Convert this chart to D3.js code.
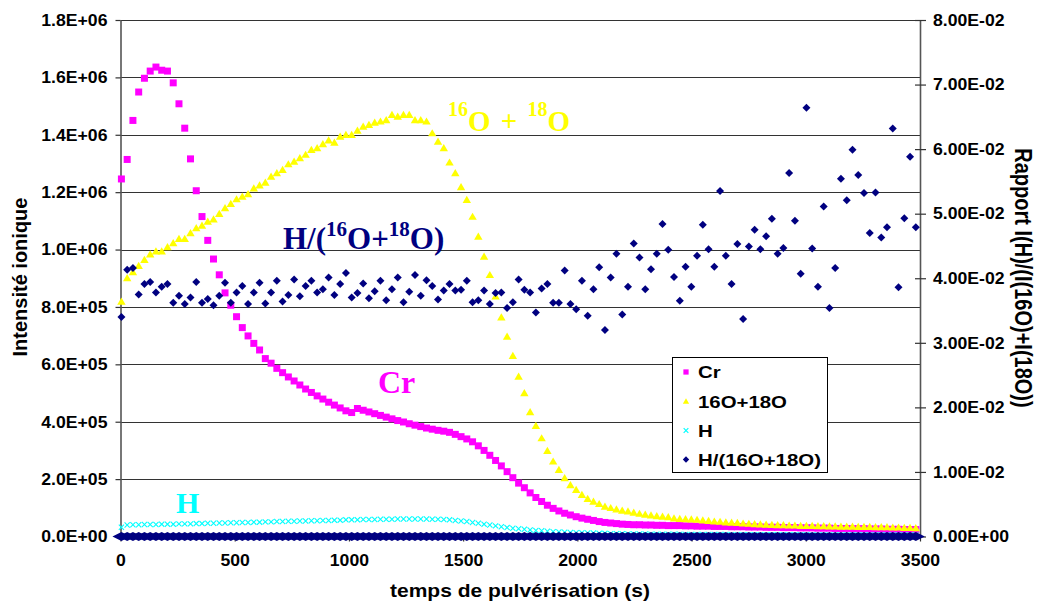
<!DOCTYPE html>
<html><head><meta charset="utf-8">
<script src="https://cdn.jsdelivr.net/npm/d3@7"></script>
<style>body{margin:0;background:#fff} svg{display:block}</style>
</head><body><svg id="c" width="1037" height="602"></svg>
<script>
// sampling schedule (s): first acquisition and step
const T0 = 4, DT = 25.2;
// Cr intensity (units of 1E+06)
const crValues = [
1.246,1.314,1.450,1.549,1.597,1.622,1.636,1.625,1.622,1.581,
1.508,1.423,1.316,1.205,1.115,1.032,0.967,0.912,0.849,0.806,
0.766,0.728,0.699,0.673,0.650,0.620,0.604,0.586,0.571,0.556,
0.542,0.528,0.514,0.502,0.490,0.479,0.468,0.458,0.448,0.438,
0.432,0.446,0.440,0.434,0.428,0.422,0.416,0.410,0.404,0.399,
0.393,0.388,0.383,0.378,0.374,0.370,0.367,0.363,0.356,0.348,
0.340,0.330,0.316,0.300,0.283,0.265,0.246,0.226,0.205,0.186,
0.170,0.152,0.136,0.122,0.109,0.098,0.089,0.081,0.075,0.069,
0.064,0.060,0.056,0.052,0.049,0.047,0.045,0.043,0.042,0.041,
0.041,0.040,0.040,0.039,0.039,0.038,0.038,0.038,0.037,0.037,
0.036,0.036,0.036,0.035,0.035,0.035,0.034,0.034,0.034,0.033,
0.033,0.033,0.032,0.032,0.032,0.031,0.031,0.031,0.030,0.030,
0.030,0.029,0.029,0.029,0.028,0.028,0.028,0.027,0.027,0.027,
0.026,0.026,0.026,0.025,0.025,0.025,0.024,0.024,0.024];
// 16O+18O intensity (units of 1E+06)
const oValues = [
0.818,0.900,0.921,0.943,0.964,0.983,0.993,0.993,1.008,1.022,
1.037,1.037,1.057,1.074,1.083,1.097,1.105,1.124,1.144,1.159,
1.175,1.184,1.193,1.213,1.223,1.233,1.254,1.266,1.277,1.297,
1.306,1.318,1.330,1.347,1.353,1.367,1.380,1.372,1.393,1.399,
1.399,1.414,1.428,1.434,1.442,1.446,1.451,1.469,1.463,1.469,
1.469,1.451,1.451,1.446,1.405,1.376,1.353,1.303,1.266,1.217,
1.173,1.114,1.045,0.975,0.911,0.836,0.763,0.696,0.629,0.557,
0.499,0.433,0.385,0.342,0.298,0.261,0.232,0.203,0.179,0.162,
0.145,0.131,0.121,0.113,0.104,0.099,0.094,0.090,0.087,0.083,
0.079,0.076,0.073,0.071,0.069,0.067,0.063,0.061,0.060,0.059,
0.058,0.056,0.054,0.052,0.051,0.049,0.048,0.047,0.045,0.044,
0.043,0.042,0.041,0.040,0.039,0.039,0.038,0.038,0.037,0.037,
0.037,0.036,0.036,0.035,0.035,0.034,0.034,0.034,0.033,0.033,
0.033,0.032,0.032,0.032,0.031,0.031,0.030,0.030,0.029];
// H intensity (units of 1E+06)
const hValues = [
0.032,0.040,0.041,0.041,0.042,0.042,0.042,0.043,0.043,0.043,
0.044,0.044,0.044,0.045,0.045,0.046,0.046,0.047,0.047,0.048,
0.048,0.049,0.049,0.050,0.050,0.051,0.051,0.052,0.052,0.053,
0.053,0.054,0.054,0.055,0.055,0.056,0.056,0.057,0.057,0.058,
0.058,0.058,0.059,0.059,0.059,0.060,0.060,0.060,0.061,0.061,
0.061,0.061,0.061,0.061,0.060,0.060,0.059,0.058,0.056,0.054,
0.052,0.049,0.046,0.043,0.040,0.037,0.034,0.031,0.029,0.027,
0.025,0.023,0.021,0.020,0.018,0.017,0.016,0.015,0.014,0.013,
0.013,0.012,0.012,0.011,0.011,0.010,0.010,0.010,0.009,0.009,
0.009,0.009,0.008,0.008,0.008,0.008,0.008,0.008,0.007,0.007,
0.007,0.007,0.007,0.007,0.007,0.007,0.006,0.006,0.006,0.006,
0.006,0.006,0.006,0.006,0.006,0.006,0.006,0.006,0.006,0.006,
0.005,0.005,0.005,0.005,0.005,0.005,0.005,0.005,0.005,0.005,
0.005,0.005,0.005,0.005,0.005,0.005,0.005,0.005,0.005];
// ratio I(H)/(I(16O)+I(18O))
const ratioValues = [
0.0340,0.0413,0.0416,0.0375,0.0391,0.0394,0.0378,0.0387,0.0391,0.0362,
0.0373,0.0360,0.0370,0.0394,0.0362,0.0368,0.0358,0.0373,0.0393,0.0362,
0.0378,0.0388,0.0360,0.0378,0.0393,0.0361,0.0378,0.0396,0.0364,0.0374,
0.0398,0.0372,0.0388,0.0396,0.0378,0.0383,0.0401,0.0374,0.0391,0.0408,
0.0370,0.0377,0.0392,0.0369,0.0380,0.0396,0.0366,0.0383,0.0401,0.0363,
0.0379,0.0405,0.0373,0.0397,0.0388,0.0367,0.0381,0.0391,0.0381,0.0382,
0.0396,0.0363,0.0366,0.0381,0.0360,0.0377,
0.0378,0.0354,0.0363,0.0398,0.0382,0.0378,0.0347,0.0384,0.0391,0.0362,
0.0362,0.0412,0.0360,0.0352,0.0396,0.0342,0.0383,0.0417,0.0320,0.0401,
0.0438,0.0344,0.0387,0.0454,0.0432,0.0383,0.0414,0.0438,0.0484,0.0444,
0.0402,0.0365,0.0418,0.0387,0.0435,0.0483,0.0445,0.0418,0.0535,0.0435,
0.0391,0.0453,0.0337,0.0449,0.0475,0.0445,0.0465,0.0492,0.0438,0.0447,
0.0563,0.0489,0.0407,0.0664,0.0446,0.0387,0.0511,0.0354,0.0416,0.0554,
0.0521,0.0599,0.0560,0.0532,0.0470,0.0533,0.0463,0.0479,0.0632,0.0386,
0.0493,0.0588,0.0479];

const xTicks = [0,500,1000,1500,2000,2500,3000,3500];
const leftTicks = [0,0.2,0.4,0.6,0.8,1.0,1.2,1.4,1.6,1.8];
const leftTickLabels = ["0.0E+00","2.0E+05","4.0E+05","6.0E+05","8.0E+05","1.0E+06","1.2E+06","1.4E+06","1.6E+06","1.8E+06"];
const rightTicks = [0,0.01,0.02,0.03,0.04,0.05,0.06,0.07,0.08];
const rightTickLabels = ["0.00E+00","1.00E-02","2.00E-02","3.00E-02","4.00E-02","5.00E-02","6.00E-02","7.00E-02","8.00E-02"];
const legendLabels = ["Cr","16O+18O","H","H/(16O+18O)"];
const colors = {cr:"#FF00FF", o:"#FFFF00", h:"#00FFFF", ratio:"#000080"};
const LEFT_UNIT = 1e6; // left axis values are stored in units of 1E+06

const times = ratioValues.map((_, i) => T0 + DT * i);

const svg = d3.select("#c");
const x = d3.scaleLinear([0, 3500], [120.5, 920]);
const yL = d3.scaleLinear([0, 1.8], [536.5, 20]);
const yR = d3.scaleLinear([0, 0.08], [536.5, 20]);
const sans = "'Liberation Sans', Arial, sans-serif";
const serif = "'Liberation Serif', 'Times New Roman', serif";

// grid
svg.append("g").selectAll("line").data(leftTicks).join("line")
  .attr("x1", x(0)).attr("x2", x(3500))
  .attr("y1", d => Math.round(yL(d)) + 0.5).attr("y2", d => Math.round(yL(d)) + 0.5)
  .attr("stroke", "#333").attr("stroke-width", 1.2);

// axes
function styleAxis(g) {
  g.selectAll("path.domain").attr("stroke", "#555").attr("stroke-width", 1.6);
  g.selectAll(".tick line").attr("stroke", "#333").attr("stroke-width", 1.2);
  g.selectAll("text").attr("font-family", sans).attr("font-weight", "bold")
    .attr("font-size", 16.5).attr("fill", "#000");
}
const gL = svg.append("g").attr("transform", "translate(120.5,0)")
  .call(d3.axisLeft(yL).tickValues(leftTicks).tickFormat((d, i) => leftTickLabels[i])
    .tickSize(5).tickSizeOuter(0).tickPadding(8));
styleAxis(gL);
gL.selectAll("text").attr("transform", "scale(1.07,1)").attr("x", -13/1.07);

const gR = svg.append("g").attr("transform", "translate(920,0)")
  .call(d3.axisRight(yR).tickValues(rightTicks).tickFormat((d, i) => rightTickLabels[i])
    .tickSize(6).tickSizeOuter(0).tickPadding(7));
styleAxis(gR);
gR.selectAll(".tick").append("line").attr("x1", -5).attr("x2", 0)
  .attr("stroke", "#333").attr("stroke-width", 1.2);
gR.selectAll("text").attr("transform", "scale(1.07,1)").attr("x", 13/1.07);

const gX = svg.append("g").attr("transform", "translate(0,536.5)")
  .call(d3.axisBottom(x).tickValues(xTicks).tickFormat(d => String(d))
    .tickSize(5).tickSizeOuter(0).tickPadding(13));
styleAxis(gX);
gX.selectAll("text").attr("transform", "scale(1.07,1)");

// marker paths
const sq = "M-3.5,-3.5H3.5V3.5H-3.5Z";
const tri = "M0,-4.2L4.2,3L-4.2,3Z";
const dia = "M0,-4L4,0L0,4L-4,0Z";
const diaWide = "M0,-4.5L9,0L0,4.5L-9,0Z";
const crs = "M-2.6,-2.6L2.6,2.6M-2.6,2.6L2.6,-2.6";

const idx = d3.range(times.length);
// Cr
svg.append("g").selectAll("path").data(idx).join("path")
  .attr("d", sq).attr("fill", colors.cr)
  .attr("transform", i => `translate(${x(times[i])},${yL(crValues[i])})`);
// O
svg.append("g").selectAll("path").data(idx).join("path")
  .attr("d", tri).attr("fill", colors.o)
  .attr("transform", i => `translate(${x(times[i])},${yL(oValues[i])})`);
// H
svg.append("g").selectAll("path").data(idx).join("path")
  .attr("d", crs).attr("fill", "none").attr("stroke", colors.h).attr("stroke-width", 1.1)
  .attr("transform", i => `translate(${x(times[i])},${yL(hValues[i])})`);
// ratio also plotted on the primary axis (appears as a band at zero)
svg.append("g").selectAll("path").data(idx).join("path")
  .attr("d", diaWide).attr("fill", colors.ratio)
  .attr("transform", i => `translate(${x(times[i])},${yL(ratioValues[i] / LEFT_UNIT)})`);
// ratio on secondary axis
svg.append("g").selectAll("path").data(idx).join("path")
  .attr("d", dia).attr("fill", colors.ratio)
  .attr("transform", i => `translate(${x(times[i])},${yR(ratioValues[i])})`);

// annotations
function rich(xp, yp, parts, fill, size, supSize, shift, sx) {
  const t = svg.append("text").attr("transform", `translate(${xp},${yp}) scale(${sx},1)`)
    .attr("font-family", serif).attr("font-weight", "bold").attr("fill", fill)
    .attr("font-size", size);
  let up = false;
  parts.forEach(p => {
    const ts = t.append("tspan").text(p.t);
    let dy = 0;
    if (p.sup && !up) { dy = -shift; up = true; }
    else if (!p.sup && up) { dy = shift; up = false; }
    if (dy) ts.attr("dy", dy);
    if (p.sup) ts.attr("font-size", supSize);
    if (p.dx) ts.attr("dx", p.dx);
  });
}
rich(448, 130.5, [{t:"16",sup:true},{t:"O"},{t:" + ",dx:3},{t:"18",sup:true,dx:3},{t:"O"}], colors.o, 29, 20, 15, 1.0);
rich(283, 249, [{t:"H/("},{t:"16",sup:true},{t:"O+"},{t:"18",sup:true},{t:"O)"}], colors.ratio, 31, 21, 13, 1.0);
rich(378, 393, [{t:"Cr"}], colors.cr, 32, 20, 0, 1.0);
rich(176, 513, [{t:"H"}], colors.h, 30, 20, 0, 1.0);

// axis titles
svg.append("text").attr("transform", "translate(27,277) rotate(-90)")
  .attr("text-anchor", "middle").attr("font-family", sans).attr("font-weight", "bold")
  .attr("font-size", 20).text("Intensité ionique");
svg.append("text").attr("transform", "translate(1015,278) scale(1.15,1) rotate(90)")
  .attr("text-anchor", "middle").attr("font-family", sans).attr("font-weight", "bold")
  .attr("font-size", 20).text("Rapport I(H)/(I(16O)+I(18O))");
svg.append("text").attr("transform", "translate(520,597) scale(1.2,1)")
  .attr("text-anchor", "middle").attr("font-family", sans).attr("font-weight", "bold")
  .attr("font-size", 17.5).text("temps de pulvérisation (s)");

// legend
const lg = svg.append("g");
lg.append("rect").attr("x", 672.5).attr("y", 357.5).attr("width", 155).attr("height", 115)
  .attr("fill", "#fff").attr("stroke", "#000").attr("stroke-width", 1);
const legY = [372, 401.5, 430.5, 459.5];
const legShapes = [[sq, colors.cr, 0.75], [tri, colors.o, 0.75], [crs, colors.h, 0.9], [dia, colors.ratio, 0.8]];
legendLabels.forEach((lab, i) => {
  const [d, c, s] = legShapes[i];
  const m = lg.append("path").attr("d", d)
    .attr("transform", `translate(686,${legY[i]}) scale(${s})`);
  if (i === 2) m.attr("fill", "none").attr("stroke", c).attr("stroke-width", 1.3);
  else m.attr("fill", c);
  lg.append("text").attr("transform", `translate(698,${legY[i] + 6}) scale(1.2,1)`)
    .attr("font-family", sans).attr("font-weight", "bold").attr("font-size", 17)
    .text(lab);
});
</script></body></html>
